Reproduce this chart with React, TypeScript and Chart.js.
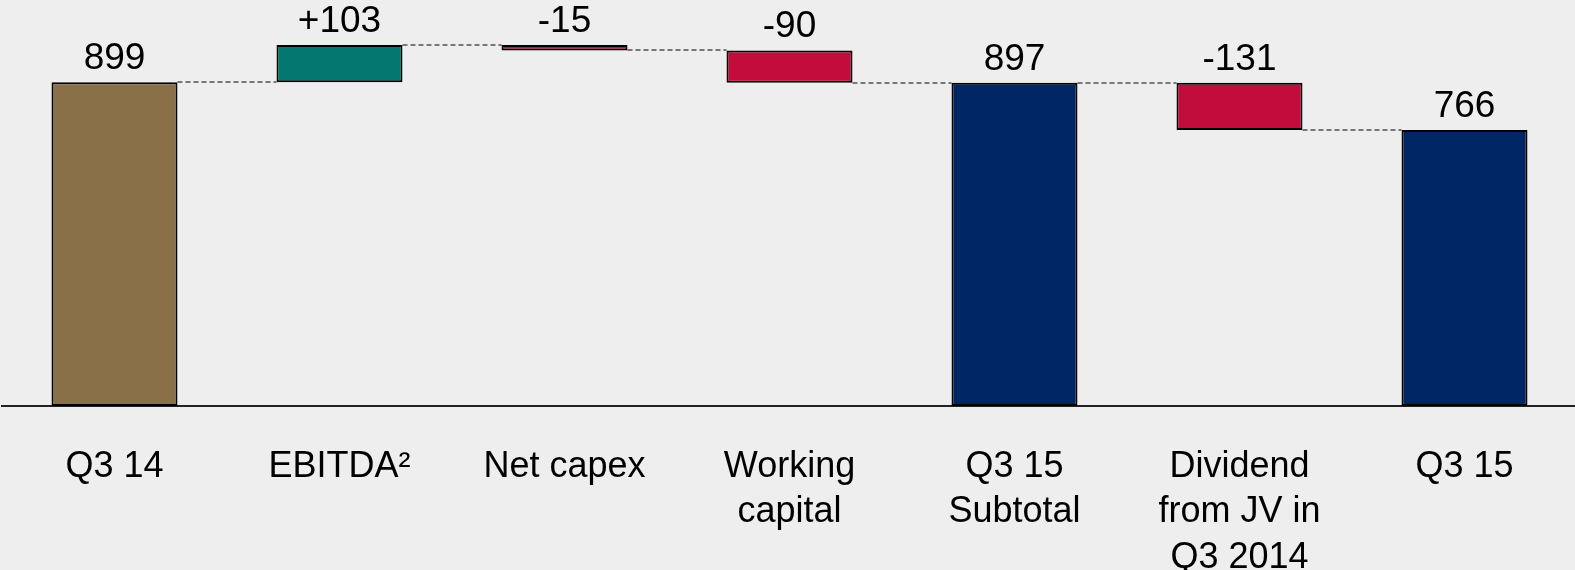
import React, { useEffect, useRef } from "react";
import { Chart, registerables } from "chart.js";

Chart.register(...registerables);

const categories: (string | string[])[] = [
  "Q3 14",
  "EBITDA²",
  "Net capex",
  ["Working", "capital"],
  ["Q3 15", "Subtotal"],
  ["Dividend", "from JV in", "Q3 2014"],
  "Q3 15",
];
const values = [899, 103, -15, -90, 897, -131, 766];
const kinds = ["total", "delta", "delta", "delta", "total", "delta", "total"];
const valueLabels = ["899", "+103", "-15", "-90", "897", "-131", "766"];
const barColors = ["#8A7049", "#037870", "#C20C3C", "#C20C3C", "#002663", "#C20C3C", "#002663"];
const yMax = 1127;

function buildRanges() {
  const ranges: [number, number][] = [];
  const levels: number[] = [];
  let cum = 0;
  values.forEach((v, i) => {
    if (kinds[i] === "total") {
      ranges.push([0, v]);
      cum = v;
    } else {
      ranges.push([cum, cum + v]);
      cum = cum + v;
    }
    levels.push(cum);
  });
  return { ranges, levels };
}

const FONT = "'Liberation Sans', Arial, sans-serif";

export default function App() {
  const ref = useRef<HTMLCanvasElement | null>(null);
  useEffect(() => {
    if (!ref.current) return;
    const { ranges, levels } = buildRanges();

    const connectorPlugin = {
      id: "connectors",
      beforeDatasetsDraw(chart: any) {
        const ctx = chart.ctx;
        const meta = chart.getDatasetMeta(0);
        const y = chart.scales.y;
        ctx.save();
        ctx.strokeStyle = "#777777";
        ctx.lineWidth = 2;
        ctx.setLineDash([5, 3]);
        for (let i = 0; i < meta.data.length - 1; i++) {
          const a = meta.data[i] as any;
          const b = meta.data[i + 1] as any;
          const py = Math.round(y.getPixelForValue(levels[i]));
          ctx.beginPath();
          ctx.moveTo(a.x + a.width / 2, py);
          ctx.lineTo(b.x - b.width / 2, py);
          ctx.stroke();
        }
        ctx.restore();
      },
    };

    const labelPlugin = {
      id: "valueLabels",
      afterDatasetsDraw(chart: any) {
        const ctx = chart.ctx;
        const meta = chart.getDatasetMeta(0);
        const y = chart.scales.y;
        ctx.save();
        ctx.font = `37px ${FONT}`;
        ctx.fillStyle = "#000";
        ctx.textAlign = "center";
        ctx.textBaseline = "alphabetic";
        meta.data.forEach((el: any, i: number) => {
          const top = Math.max(ranges[i][0], ranges[i][1]);
          ctx.fillText(valueLabels[i], el.x, y.getPixelForValue(top) - 13);
        });
        ctx.restore();
      },
    };

    const chart = new Chart(ref.current, {
      type: "bar",
      data: {
        labels: categories,
        datasets: [
          {
            data: ranges as any,
            backgroundColor: barColors,
            borderColor: "#000000",
            borderWidth: 2,
            borderSkipped: false,
            barPercentage: 0.56,
            categoryPercentage: 1,
          },
        ],
      },
      options: {
        animation: false,
        responsive: false,
        maintainAspectRatio: false,
        layout: { padding: { left: 2, right: 0, top: 0, bottom: 0 } },
        plugins: { legend: { display: false }, tooltip: { enabled: false } },
        scales: {
          x: {
            grid: { display: false, drawTicks: false },
            border: { display: true, color: "#222222", width: 2 },
            ticks: {
              color: "#000",
              autoSkip: false,
              maxRotation: 0,
              padding: 38,
              font: { family: FONT, size: 36, lineHeight: 45.5 / 36 },
            },
            afterFit(scale: any) {
              scale.height = 164;
            },
          },
          y: {
            display: false,
            min: 0,
            max: yMax,
          },
        },
      },
      plugins: [connectorPlugin, labelPlugin],
    });
    return () => chart.destroy();
  }, []);

  return (
    <div
      style={{
        position: "fixed",
        top: 0,
        left: 0,
        width: 1575,
        height: 570,
        overflow: "hidden",
        background: "#EEEEEE",
      }}
    >
      <canvas ref={ref} width={1577} height={570} style={{ display: "block" }} />
    </div>
  );
}
